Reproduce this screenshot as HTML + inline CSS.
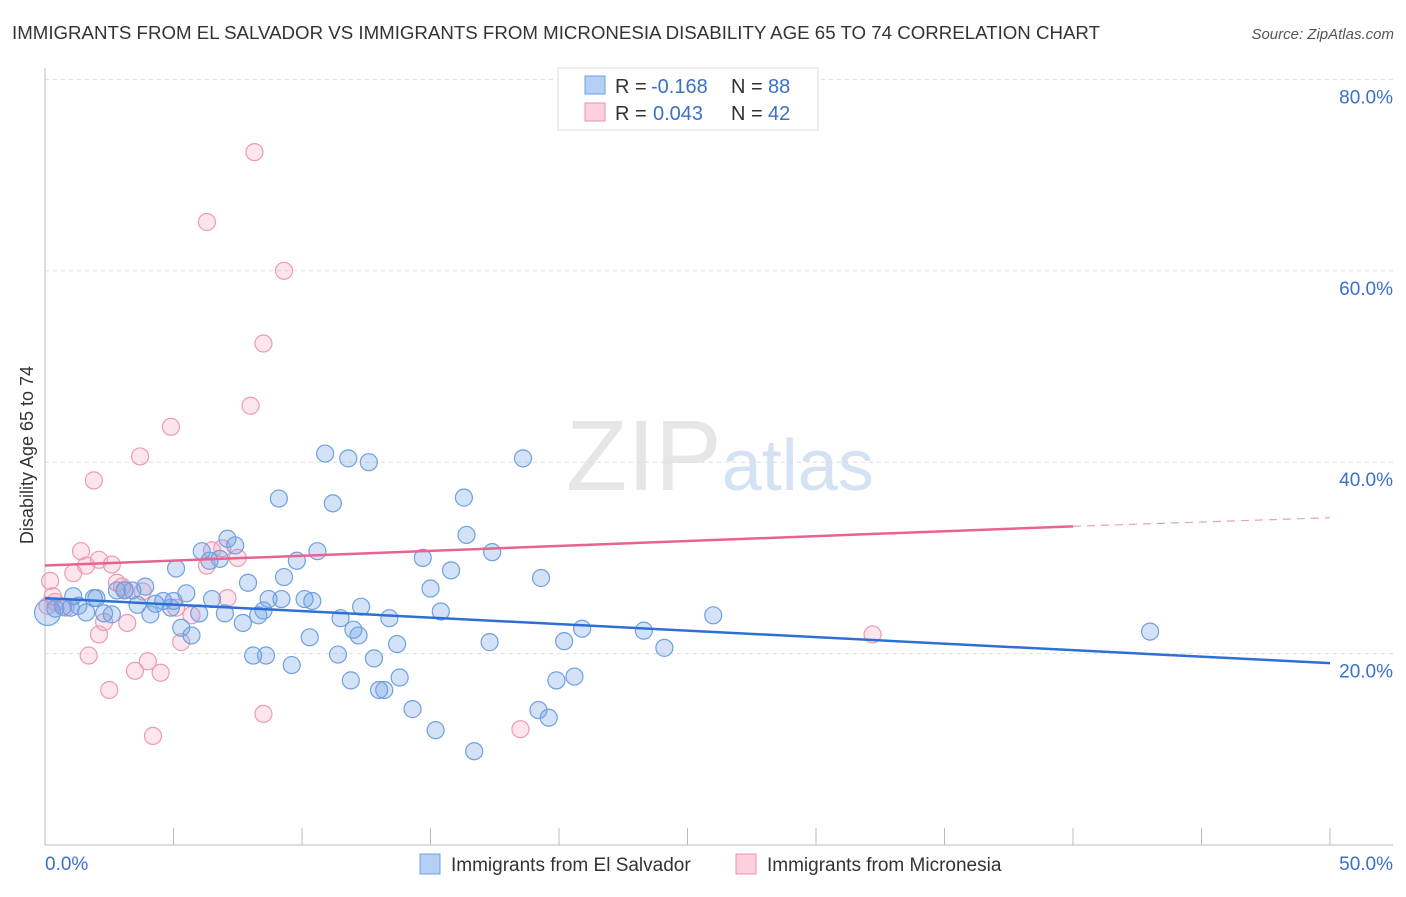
<!DOCTYPE html>
<html><head><meta charset="utf-8"><style>
body{margin:0;background:#fff;font-family:"Liberation Sans",sans-serif;}
svg text{font-family:"Liberation Sans",sans-serif;white-space:pre;}
</style></head><body>
<svg id="chart" width="1406" height="892" viewBox="0 0 1406 892" xmlns="http://www.w3.org/2000/svg">
<text x="12" y="39" font-size="18" fill="#333" textLength="1088" lengthAdjust="spacingAndGlyphs">IMMIGRANTS FROM EL SALVADOR VS IMMIGRANTS FROM MICRONESIA DISABILITY AGE 65 TO 74 CORRELATION CHART</text>
<text x="1394" y="39" font-size="15" fill="#555" font-style="italic" text-anchor="end">Source: ZipAtlas.com</text>
<text x="720" y="490" font-size="100" text-anchor="middle" fill="#e6e6e6" font-family="Liberation Serif">ZIP<tspan fill="#d5e2f3" font-family="Liberation Sans" font-size="72">atlas</tspan></text>
<g id="grid"></g>
<g id="axes"></g>
<g id="points"></g>
<g id="trends"></g>
<text transform="translate(33,455) rotate(-90)" font-size="18" fill="#333" text-anchor="middle">Disability Age 65 to 74</text>
<g>
<rect x="558" y="68" width="260" height="62" fill="#fff" stroke="#ddd"/>
<rect x="585" y="76" width="20" height="18" fill="#b5d0f5" stroke="#6fa0e0"/>
<text x="615" y="93" font-size="20" fill="#333">R =</text>
<text x="651" y="93" font-size="20" fill="#3a70c8">-0.168</text>
<text x="731" y="93" font-size="20" fill="#333">N =</text>
<text x="768" y="93" font-size="20" fill="#3a70c8">88</text>
<rect x="585" y="103" width="20" height="18" fill="#fcd0dc" stroke="#ec90aa"/>
<text x="615" y="120" font-size="20" fill="#333">R =</text>
<text x="653" y="120" font-size="20" fill="#3a70c8">0.043</text>
<text x="731" y="120" font-size="20" fill="#333">N =</text>
<text x="768" y="120" font-size="20" fill="#3a70c8">42</text>
</g>
<g>
<rect x="420" y="854" width="20" height="20" fill="#b5d0f5" stroke="#6fa0e0"/>
<text x="451" y="871" font-size="19" fill="#333">Immigrants from El Salvador</text></g>
<g>
<rect x="736" y="854" width="20" height="20" fill="#fcd0dc" stroke="#ec90aa"/>
<text x="767" y="871" font-size="19" fill="#333">Immigrants from Micronesia</text></g>
</svg>
<script>
const yTicks=[20,40,60,80];
const xTickLabels=["0.0%","50.0%"];
const blueX=[0.1,0.4,0.7,1,1.3,1.6,1.9,2.3,2.6,2.8,3.1,3.4,3.6,3.9,4.1,4.3,4.6,4.9,5.1,5.3,5.5,5.7,6.0,6.1,6.4,6.5,6.8,7.0,7.1,7.4,7.7,7.9,8.1,8.3,8.6,8.7,9.1,9.2,9.3,9.6,9.8,10.1,10.3,10.4,10.6,10.9,11.2,11.4,11.5,11.8,11.9,12.2,12.3,12.6,12.8,13.0,13.2,13.4,13.7,13.8,14.3,14.7,15.0,15.2,15.4,15.8,16.3,16.4,16.7,17.3,17.4,18.6,19.2,19.3,19.6,19.9,20.2,20.6,20.9,23.3,24.1,26.0,43.0,1.1,2.0,5.0,8.5,12.0];
const blueY=[24.3,24.7,24.9,24.8,25.0,24.3,25.8,24.2,24.1,26.6,26.6,26.6,25.1,27.0,24.1,25.2,25.5,24.8,28.9,22.7,26.3,21.9,24.2,30.7,29.7,25.7,29.9,24.2,32.0,31.3,23.2,27.4,19.8,24.0,19.8,25.7,36.2,25.7,28.0,18.8,29.7,25.7,21.7,25.5,30.7,40.9,35.7,19.9,23.7,40.4,17.2,21.9,24.9,40.0,19.5,16.2,16.2,23.7,21.0,17.5,14.2,30.0,26.8,12.0,24.4,28.7,36.3,32.4,9.8,21.2,30.6,40.4,14.1,27.9,13.3,17.2,21.3,17.6,22.6,22.4,20.6,24.0,22.3,26.0,25.8,25.5,24.5,22.5];
const pinkX=[0.2,0.4,0.8,1.1,1.4,1.6,1.7,1.9,2.1,2.1,2.3,2.5,2.6,2.8,3.1,3.2,3.5,3.7,3.8,4.0,4.2,4.5,4.9,5.1,5.3,6.3,6.3,6.5,6.9,7.1,8.0,8.15,8.5,8.5,9.3,0.3,32.2,18.5,0.1,3.0,5.7,7.5];
const pinkY=[27.6,25.4,24.8,28.4,30.7,29.2,19.8,38.1,29.8,22.0,23.3,16.2,29.3,27.4,26.7,23.2,18.2,40.6,26.5,19.2,11.4,18.0,43.7,24.8,21.2,65.1,29.2,30.8,31.0,25.8,45.9,72.4,52.4,13.7,60.0,26.0,22.0,12.1,25.0,27.0,24.0,30.0];
const blueTrend=[25.8,19.0];
const pinkTrendSolid=[29.2,33.3];
const pinkTrendEnd=34.2;
const X0=45,X1=1330,Y0=845,PY=9.57;
const sx=v=>X0+(X1-X0)*v/50, sy=v=>Y0-v*PY;
const NS="http://www.w3.org/2000/svg";
function mk(tag,attrs,parent){const e=document.createElementNS(NS,tag);for(const k in attrs)e.setAttribute(k,attrs[k]);parent.appendChild(e);return e;}
const grid=document.getElementById('grid'),axes=document.getElementById('axes'),pts=document.getElementById('points'),tr=document.getElementById('trends');
yTicks.forEach(t=>{
 const l=mk('line',{x1:X0,x2:1393,y1:sy(t),y2:sy(t),stroke:'#ddd','stroke-dasharray':'4,4'},grid);
 
 
 const tx=mk('text',{x:1393,y:sy(t)+24,'font-size':19,fill:'#3a70c8','text-anchor':'end'},grid);
 tx.textContent=t.toFixed(1)+'%';
 
 
});
const ax=mk('line',{x1:X0,x2:1393,y1:Y0,y2:Y0,stroke:'#bbb'},axes);


const ay=mk('line',{x1:X0,x2:X0,y1:68,y2:Y0,stroke:'#bbb'},axes);


for(let i=0;i<=10;i++){const t=mk('line',{x1:sx(i*5),x2:sx(i*5),y1:828,y2:Y0,stroke:'#bbb'},axes);
 
 }
xTickLabels.forEach((s,i)=>{const t=mk('text',{x:i?1393:45,y:870,'font-size':19,fill:'#3a70c8','text-anchor':i?'end':'start'},axes);t.textContent=s;
 
 });
pinkX.forEach((x,i)=>{const c=mk('circle',{cx:sx(x),cy:sy(pinkY[i]),r:8.5,fill:'rgba(248,170,195,0.3)',stroke:'#ee9ab4','stroke-width':1.2},pts);
 
 });
blueX.forEach((x,i)=>{const c=mk('circle',{cx:sx(x),cy:sy(blueY[i]),r:i==0?13:8.5,fill:'rgba(110,160,230,0.3)',stroke:'#6fa0e0','stroke-width':1.2},pts);
 
 });
const bt=mk('line',{x1:sx(0),y1:sy(blueTrend[0]),x2:sx(50),y2:sy(blueTrend[1]),stroke:'#2e6fd6','stroke-width':2.5},tr);


const pt=mk('line',{x1:sx(0),y1:sy(pinkTrendSolid[0]),x2:sx(40),y2:sy(pinkTrendSolid[1]),stroke:'#e8638f','stroke-width':2.5},tr);


const pd=mk('line',{x1:sx(40),y1:sy(pinkTrendSolid[1]),x2:sx(50),y2:sy(pinkTrendEnd),stroke:'#e8a0b8','stroke-width':1.2,'stroke-dasharray':'8,6'},tr);


</script>
</body></html>
